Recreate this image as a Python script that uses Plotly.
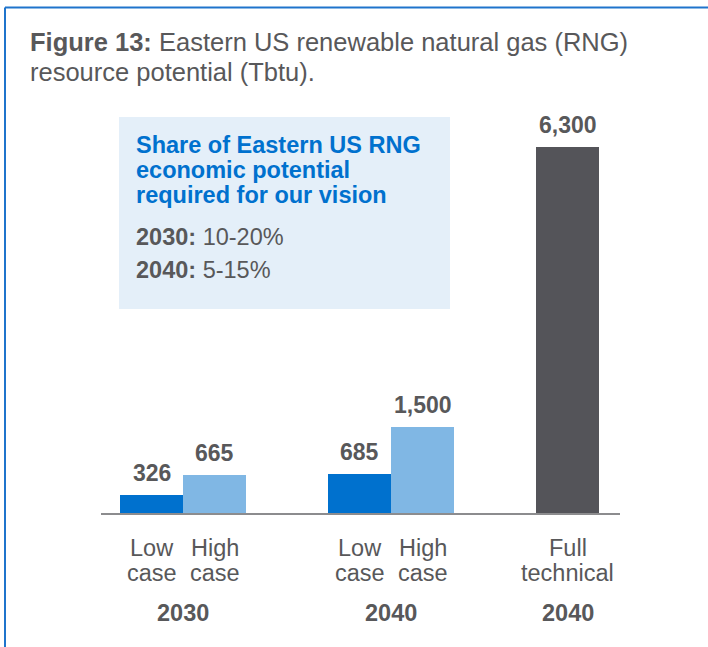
import plotly.graph_objects as go

# ---------------- data ----------------
title_bold = "Figure 13:"
title_lines = ["Eastern US renewable natural gas (RNG)", "resource potential (Tbtu)."]

categories = ["Low case", "High case", "Low case", "High case", "Full technical"]
years = ["2030", "2030", "2040", "2040", "2040"]
groups = [0, 0, 1, 1, 2]
values = [326, 665, 685, 1500, 6300]
value_labels = ["326", "665", "685", "1,500", "6,300"]

box_heading = ["Share of Eastern US RNG", "economic potential", "required for our vision"]
box_years = ["2030:", "2040:"]
box_shares = ["10-20%", "5-15%"]

# ---------------- style / layout ----------------
W, H = 708, 647
FONT = "Liberation Sans"
GRAY = "#58585a"
BLUE = "#0071ce"
bar_colors = ["#0071ce", "#80b7e4", "#0071ce", "#80b7e4", "#545459"]

GROUP_CENTERS = [183, 391, 567.5]
BAR_W = 63
BASE_PX = 514
TOP_PX = 147

# bar x positions from group layout
bar_x = []
for i, g in enumerate(groups):
    members = [j for j, gg in enumerate(groups) if gg == g]
    n = len(members)
    k = members.index(i)
    bar_x.append(GROUP_CENTERS[g] + (k - (n - 1) / 2) * BAR_W)

scale = (BASE_PX - TOP_PX) / max(values)   # px per unit
y_min = -(H - BASE_PX) / scale
y_max = BASE_PX / scale


def px(x):
    return x / W


def py(y):
    return 1 - y / H


fig = go.Figure()
fig.add_trace(go.Bar(
    x=bar_x, y=values, width=BAR_W,
    marker=dict(color=bar_colors, line=dict(width=0)),
    hoverinfo="skip", showlegend=False,
))

ann = []


def add_text(text, x, y, size, color=GRAY, xanchor="center", xref="paper", yref="paper", yshift=0):
    ann.append(dict(text=text, x=x, y=y, xref=xref, yref=yref, xanchor=xanchor,
                    yanchor="middle", showarrow=False, yshift=yshift,
                    font=dict(family=FONT, size=size, color=color)))


# title
add_text(f"<b>{title_bold}</b> {title_lines[0]}", px(28), py(41.5), 25.5, xanchor="left")
add_text(title_lines[1], px(28), py(71.5), 25.5, xanchor="left")

# info box text
for i, line in enumerate(box_heading):
    add_text(f"<b>{line}</b>", px(134), py(144.7 + 25 * i), 23.5, color=BLUE, xanchor="left")
for i, (yr, sh) in enumerate(zip(box_years, box_shares)):
    add_text(f"<b>{yr}</b> {sh}", px(134), py(236.7 + 33 * i), 23.5, xanchor="left")

# value labels
for x, v, lab in zip(bar_x, values, value_labels):
    add_text(f"<b>{lab}</b>", x, v, 23, xref="x", yref="y", yshift=22)

# category labels (two lines)
for x, cat in zip(bar_x, categories):
    first, second = cat.split(" ")
    add_text(first, x, 0, 23.5, xref="x", yref="y", yshift=-34)
    add_text(second, x, 0, 23.5, xref="x", yref="y", yshift=-59)

# year labels per group
for g, c in enumerate(GROUP_CENTERS):
    idx = [j for j, gg in enumerate(groups) if gg == g][0]
    add_text(f"<b>{years[idx]}</b>", c, 0, 23.5, xref="x", yref="y", yshift=-99)

shapes = [
    # frame
    dict(type="line", xref="paper", yref="paper", x0=px(5), x1=1.0, y0=py(7.5), y1=py(7.5),
         line=dict(color="#1f74cc", width=2)),
    dict(type="line", xref="paper", yref="paper", x0=px(5), x1=px(5), y0=py(7.5), y1=0,
         line=dict(color="#1f74cc", width=2)),
    # info box
    dict(type="rect", xref="paper", yref="paper", x0=px(119), x1=px(450), y0=py(117), y1=py(309),
         fillcolor="#e4eff9", line=dict(width=0), layer="below"),
    # baseline
    dict(type="line", xref="x", yref="y", x0=101, x1=620, y0=0, y1=0,
         line=dict(color="#8c8c8e", width=2)),
]

fig.update_layout(
    width=W, height=H, autosize=False,
    margin=dict(l=0, r=0, t=0, b=0, pad=0),
    paper_bgcolor="white", plot_bgcolor="white",
    xaxis=dict(range=[0, W], visible=False, fixedrange=True),
    yaxis=dict(range=[y_min, y_max], visible=False, fixedrange=True),
    bargap=0,
    annotations=ann,
    shapes=shapes,
)

fig.write_html(
    "out.html",
    config={"displayModeBar": False},
    post_script="document.body.style.margin='0';document.body.style.padding='0';"
                "document.body.style.overflow='hidden';",
)
